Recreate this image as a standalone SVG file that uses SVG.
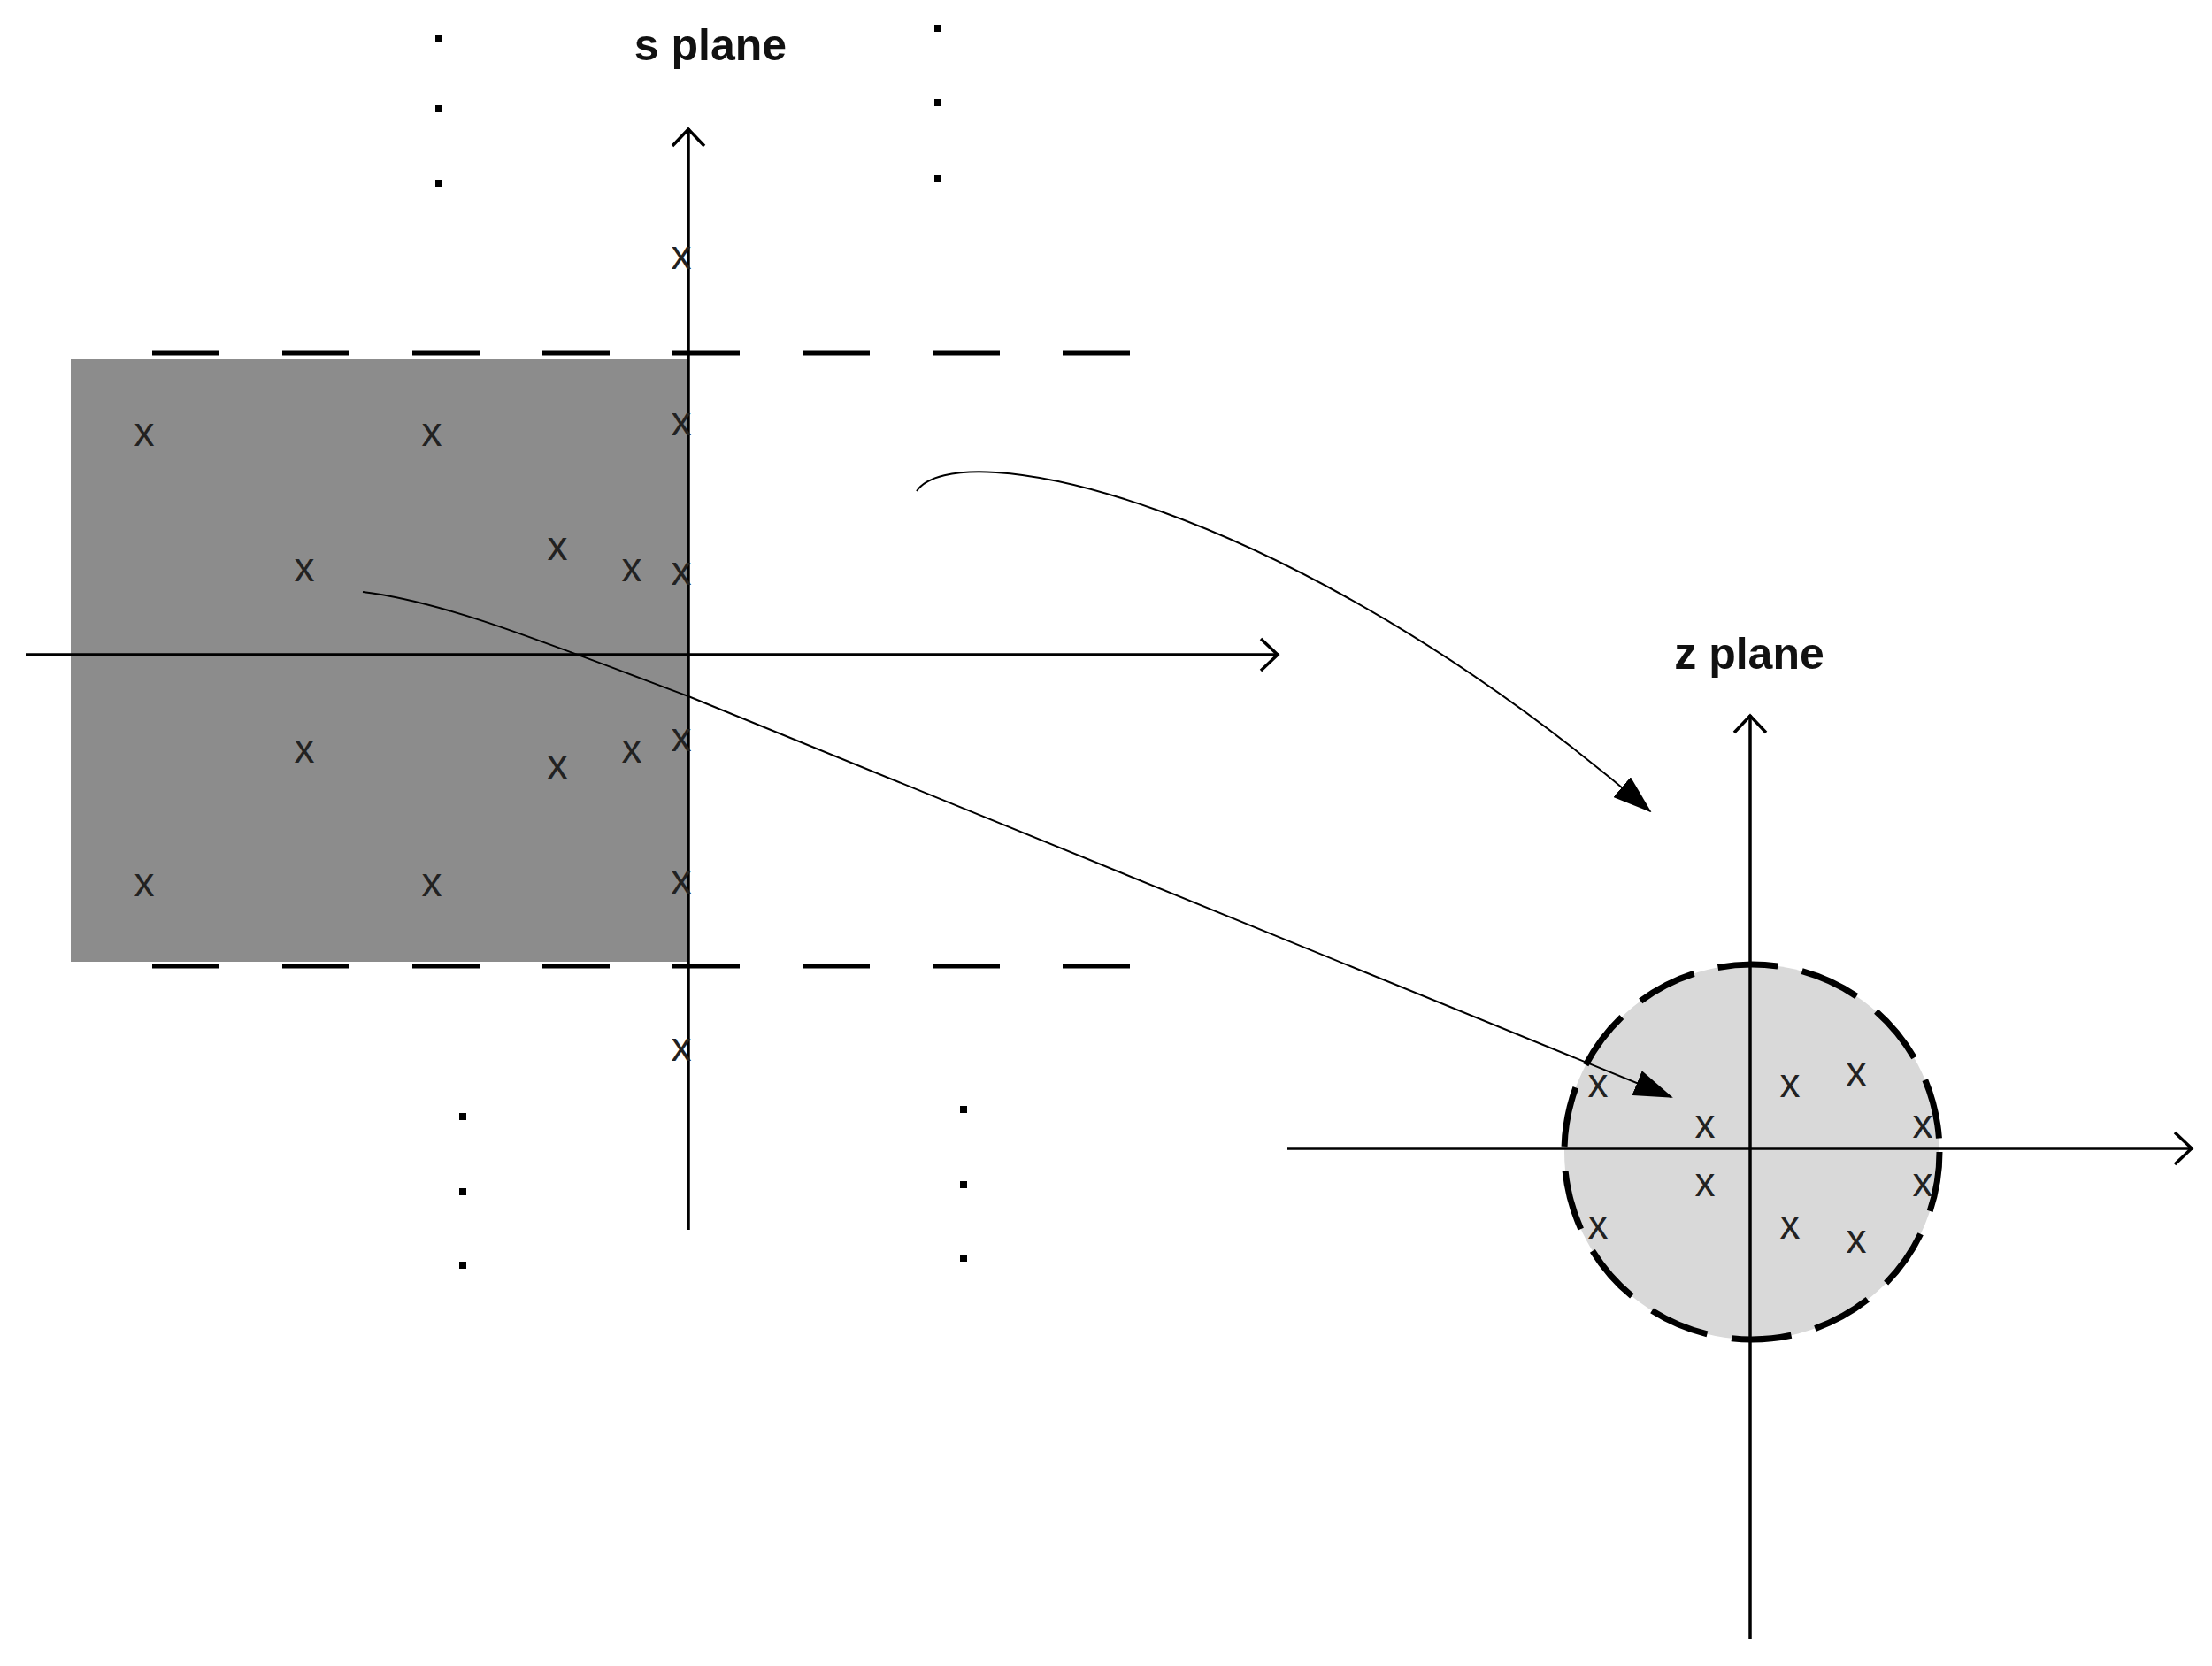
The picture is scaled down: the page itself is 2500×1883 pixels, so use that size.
<svg xmlns="http://www.w3.org/2000/svg" width="2500" height="1883" viewBox="0 0 2500 1883">
<style>
.ax{stroke:#000;stroke-width:3.5;fill:none;marker-end:url(#open)}
.cv{stroke:#000;stroke-width:2;fill:none;marker-end:url(#tri)}
.dash{stroke:#000;stroke-width:5;stroke-dasharray:76 71;fill:none}
.cdash{stroke:#000;stroke-width:7;stroke-dasharray:68 28;fill:none}
.x{font-family:"Liberation Sans",Arial,sans-serif;font-size:46px;fill:#222;text-anchor:middle;dominant-baseline:central}
.lbl{font-family:"Liberation Sans",Arial,sans-serif;font-size:50px;font-weight:bold;fill:#111;text-anchor:middle}
.dot{fill:#000}
</style>
<defs>
<marker id="open" markerWidth="24" markerHeight="40" refX="22" refY="20" orient="auto" markerUnits="userSpaceOnUse" viewBox="0 0 24 40"><path d="M2,2 L21,20 L2,38" fill="none" stroke="#000" stroke-width="3.5"/></marker>
<marker id="tri" markerWidth="44" markerHeight="30" refX="42" refY="15" orient="auto" markerUnits="userSpaceOnUse"><path d="M0,0 L44,15 L0,30 Z" fill="#000"/></marker>
</defs>
<rect width="2500" height="1883" fill="#fff"/>
<g id="s-plane">
<rect id="s-region" x="80" y="406" width="698" height="681" fill="#8c8c8c"/>
<line class="dash" x1="172" y1="399" x2="1278" y2="399"/>
<line class="dash" x1="172" y1="1092" x2="1278" y2="1092"/>
<line class="ax" x1="778" y1="1390" x2="778" y2="145"/>
<line class="ax" x1="29" y1="740" x2="1445" y2="740"/>
<text class="lbl" x="803" y="68">s plane</text>
<g id="s-dots">
<rect class="dot" x="492" y="39" width="8" height="8"/><rect class="dot" x="492" y="119" width="8" height="8"/><rect class="dot" x="492" y="203" width="8" height="8"/>
<rect class="dot" x="1056" y="28" width="8" height="8"/><rect class="dot" x="1056" y="112" width="8" height="8"/><rect class="dot" x="1056" y="198" width="8" height="8"/>
<rect class="dot" x="519" y="1258" width="8" height="8"/><rect class="dot" x="519" y="1343" width="8" height="8"/><rect class="dot" x="519" y="1426" width="8" height="8"/>
<rect class="dot" x="1085" y="1250" width="8" height="8"/><rect class="dot" x="1085" y="1335" width="8" height="8"/><rect class="dot" x="1085" y="1418" width="8" height="8"/>
</g>
<g id="s-poles">
<text class="x" x="770" y="288">x</text>
<text class="x" x="163" y="488">x</text><text class="x" x="488" y="488">x</text><text class="x" x="770" y="476">x</text>
<text class="x" x="344" y="641">x</text><text class="x" x="630" y="617">x</text><text class="x" x="714" y="641">x</text><text class="x" x="770" y="645">x</text>
<text class="x" x="344" y="846">x</text><text class="x" x="630" y="864">x</text><text class="x" x="714" y="846">x</text><text class="x" x="770" y="833">x</text>
<text class="x" x="163" y="997">x</text><text class="x" x="488" y="997">x</text><text class="x" x="770" y="994">x</text>
<text class="x" x="770" y="1183">x</text>
</g>
</g>
<g id="z-plane">
<circle id="z-region" cx="1980" cy="1302" r="212" fill="#d9d9d9"/>
<circle cx="1980" cy="1302" r="212" class="cdash"/>
<line class="ax" x1="1978" y1="1852" x2="1978" y2="808"/>
<line class="ax" x1="1455" y1="1298" x2="2478" y2="1298"/>
<text class="lbl" x="1977" y="756">z plane</text>
<g id="z-poles">
<text class="x" x="1806" y="1224">x</text><text class="x" x="1927" y="1270">x</text><text class="x" x="1927" y="1336">x</text><text class="x" x="1806" y="1384">x</text>
<text class="x" x="2023" y="1224">x</text><text class="x" x="2098" y="1211">x</text><text class="x" x="2173" y="1270">x</text><text class="x" x="2173" y="1336">x</text>
<text class="x" x="2023" y="1384">x</text><text class="x" x="2098" y="1400">x</text>
</g>
</g>
<g id="connectors">
<path class="cv" d="M1036,555 C1080,490 1450,560 1865,917"/>
<path class="cv" d="M410,669 C500,680 600,720 778,787 L1889,1240"/>
</g>
</svg>
